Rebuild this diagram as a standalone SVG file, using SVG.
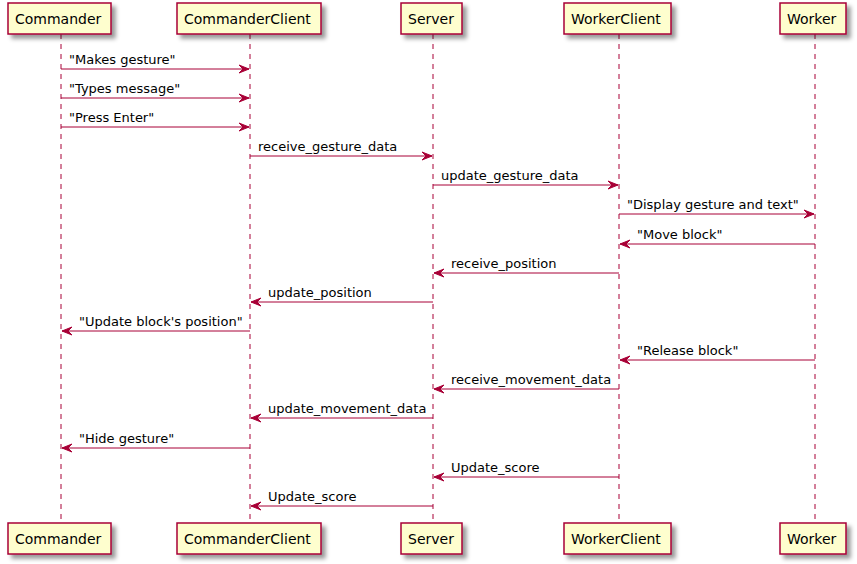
<svg xmlns="http://www.w3.org/2000/svg" width="857" height="564" viewBox="0 0 857 564">
<defs>
<filter id="sh" x="-1" y="-1" width="300%" height="300%">
<feGaussianBlur in="SourceAlpha" stdDeviation="2"/>
<feColorMatrix type="matrix" values="0 0 0 0 0  0 0 0 0 0  0 0 0 0 0  0 0 0 0.4 0"/>
<feOffset dx="4" dy="4" result="b"/>
<feMerge><feMergeNode in="b"/><feMergeNode in="SourceGraphic"/></feMerge>
</filter>
<marker id="ah" viewBox="-1 -1 12 10" refX="10" refY="4" markerWidth="12" markerHeight="10" markerUnits="userSpaceOnUse" orient="auto">
<polygon points="0,0 10,4 0,8 4,4" fill="#A80036" stroke="#A80036" stroke-width="1"/>
</marker>
</defs>
<style>
.box{fill:#FEFECE;stroke:#A80036;stroke-width:1.5}
.life{stroke:#A80036;stroke-width:1;stroke-dasharray:5,5;fill:none}
.msg{stroke:#A80036;stroke-width:1;fill:none;marker-end:url(#ah)}
.pt{font-family:"DejaVu Sans",sans-serif;font-size:14px;fill:#000}
.mt{font-family:"DejaVu Sans",sans-serif;font-size:13px;fill:#000}
</style>
<rect width="857" height="564" fill="#FFFFFF"/>
<g id="lifelines">
<line class="life" x1="61" y1="34" x2="61" y2="523"/>
<line class="life" x1="250" y1="34" x2="250" y2="523"/>
<line class="life" x1="433" y1="34" x2="433" y2="523"/>
<line class="life" x1="619" y1="34" x2="619" y2="523"/>
<line class="life" x1="815" y1="34" x2="815" y2="523"/>
</g>
<g id="Commander">
<rect class="box" x="8" y="3" width="103" height="31" filter="url(#sh)"/>
<text class="pt" x="15" y="23.5">Commander</text>
<rect class="box" x="8" y="523" width="103" height="31" filter="url(#sh)"/>
<text class="pt" x="15" y="543.5">Commander</text>
</g>
<g id="CommanderClient">
<rect class="box" x="177" y="3" width="144" height="31" filter="url(#sh)"/>
<text class="pt" x="184" y="23.5">CommanderClient</text>
<rect class="box" x="177" y="523" width="144" height="31" filter="url(#sh)"/>
<text class="pt" x="184" y="543.5">CommanderClient</text>
</g>
<g id="Server">
<rect class="box" x="401" y="3" width="61" height="31" filter="url(#sh)"/>
<text class="pt" x="408" y="23.5">Server</text>
<rect class="box" x="401" y="523" width="61" height="31" filter="url(#sh)"/>
<text class="pt" x="408" y="543.5">Server</text>
</g>
<g id="WorkerClient">
<rect class="box" x="564" y="3" width="107" height="31" filter="url(#sh)"/>
<text class="pt" x="571" y="23.5">WorkerClient</text>
<rect class="box" x="564" y="523" width="107" height="31" filter="url(#sh)"/>
<text class="pt" x="571" y="543.5">WorkerClient</text>
</g>
<g id="Worker">
<rect class="box" x="780" y="3" width="66" height="31" filter="url(#sh)"/>
<text class="pt" x="787" y="23.5">Worker</text>
<rect class="box" x="780" y="523" width="66" height="31" filter="url(#sh)"/>
<text class="pt" x="787" y="543.5">Worker</text>
</g>
<g id="connectors">
<line class="msg" x1="61" y1="69" x2="249" y2="69"/>
<text class="mt" x="69" y="64">"Makes gesture"</text>
<line class="msg" x1="61" y1="98" x2="249" y2="98"/>
<text class="mt" x="69" y="93">"Types message"</text>
<line class="msg" x1="61" y1="127" x2="249" y2="127"/>
<text class="mt" x="69" y="122">"Press Enter"</text>
<line class="msg" x1="250" y1="156" x2="432" y2="156"/>
<text class="mt" x="258" y="151">receive_gesture_data</text>
<line class="msg" x1="433" y1="185" x2="618" y2="185"/>
<text class="mt" x="441" y="180">update_gesture_data</text>
<line class="msg" x1="619" y1="214" x2="814" y2="214"/>
<text class="mt" x="627" y="209">"Display gesture and text"</text>
<line class="msg" x1="815" y1="244" x2="620" y2="244"/>
<text class="mt" x="637" y="239">"Move block"</text>
<line class="msg" x1="619" y1="273" x2="434" y2="273"/>
<text class="mt" x="451" y="268">receive_position</text>
<line class="msg" x1="433" y1="302" x2="251" y2="302"/>
<text class="mt" x="268" y="297">update_position</text>
<line class="msg" x1="250" y1="331" x2="62" y2="331"/>
<text class="mt" x="79" y="326">"Update block's position"</text>
<line class="msg" x1="815" y1="360" x2="620" y2="360"/>
<text class="mt" x="637" y="355">"Release block"</text>
<line class="msg" x1="619" y1="389" x2="434" y2="389"/>
<text class="mt" x="451" y="384">receive_movement_data</text>
<line class="msg" x1="433" y1="418" x2="251" y2="418"/>
<text class="mt" x="268" y="413">update_movement_data</text>
<line class="msg" x1="250" y1="448" x2="62" y2="448"/>
<text class="mt" x="79" y="443">"Hide gesture"</text>
<line class="msg" x1="619" y1="477" x2="434" y2="477"/>
<text class="mt" x="451" y="472">Update_score</text>
<line class="msg" x1="433" y1="506" x2="251" y2="506"/>
<text class="mt" x="268" y="501">Update_score</text>
</g>
</svg>
